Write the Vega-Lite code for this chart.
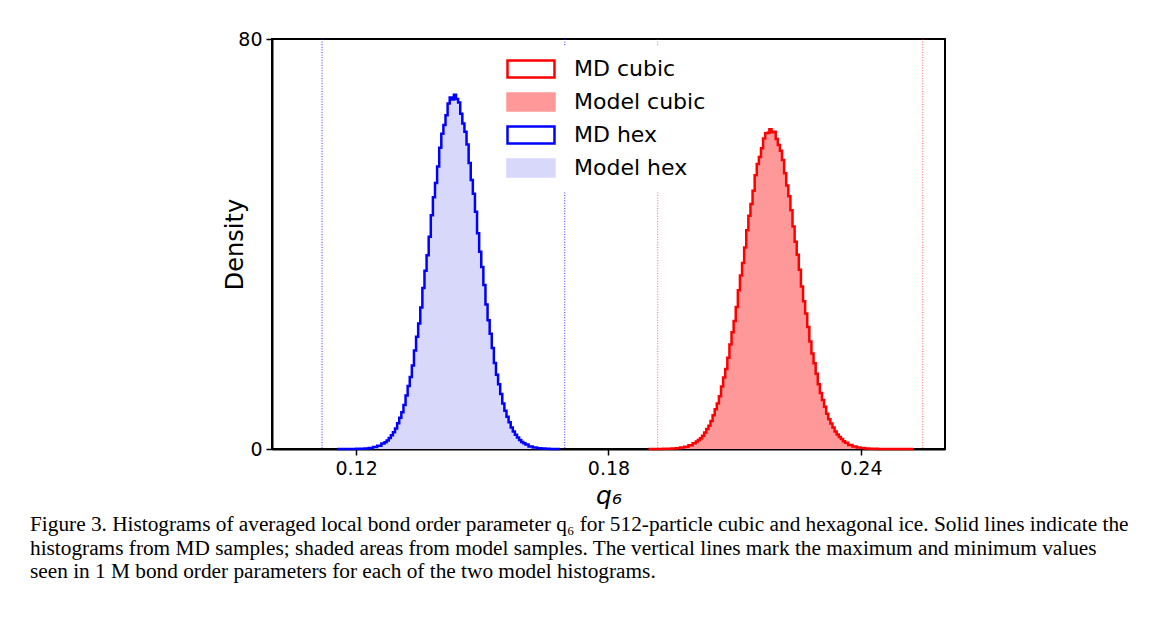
{
  "$schema": "https://vega.github.io/schema/vega-lite/v6.json",
  "width": 673,
  "height": 410,
  "autosize": {"type": "none"},
  "padding": {"left": 272, "top": 39, "right": 222, "bottom": 172},
  "background": "white",
  "config": {
    "view": {"stroke": "black", "strokeWidth": 2},
    "axis": {"grid": false, "domainColor": "black", "domainWidth": 2, "tickColor": "black", "tickWidth": 1.5, "tickSize": 6, "labelColor": "black", "labelFont": "DejaVu Sans", "labelFontSize": 19, "titleColor": "black", "titleFont": "DejaVu Sans", "titleFontWeight": "normal"}
  },
  "title": {
    "text": [
      "Figure 3. Histograms of averaged local bond order parameter q₆ for 512-particle cubic and hexagonal ice. Solid lines indicate the",
      "histograms from MD samples; shaded areas from model samples. The vertical lines mark the maximum and minimum values",
      "seen in 1 M bond order parameters for each of the two model histograms."
    ],
    "orient": "bottom",
    "anchor": "start",
    "frame": "group",
    "dx": -242,
    "offset": 6,
    "align": "left",
    "baseline": "top",
    "font": "Liberation Serif",
    "fontSize": 21.3,
    "fontWeight": "normal",
    "lineHeight": 23.5,
    "color": "black"
  },
  "datasets": {
    "bounds": [
      {"phase": "hex", "q": 0.1119},
      {"phase": "hex", "q": 0.1696},
      {"phase": "cubic", "q": 0.1917},
      {"phase": "cubic", "q": 0.2547}
    ],
    "hist": [
      {"q": 0.1155, "Model hex": 0.001, "MD hex": 0.001}, {"q": 0.1165, "Model hex": 0.002, "MD hex": 0.002}, {"q": 0.1175, "Model hex": 0.004, "MD hex": 0.004}, {"q": 0.1185, "Model hex": 0.007, "MD hex": 0.008}, {"q": 0.1195, "Model hex": 0.015, "MD hex": 0.016}, {"q": 0.1205, "Model hex": 0.03, "MD hex": 0.03}, {"q": 0.1215, "Model hex": 0.06, "MD hex": 0.06}, {"q": 0.1225, "Model hex": 0.11, "MD hex": 0.11}, {"q": 0.1235, "Model hex": 0.2, "MD hex": 0.21}, {"q": 0.1245, "Model hex": 0.36, "MD hex": 0.37}, {"q": 0.1255, "Model hex": 0.62, "MD hex": 0.63}, {"q": 0.1265, "Model hex": 1.04, "MD hex": 1.06},
      {"q": 0.127, "Model hex": 1.32, "MD hex": 1.33}, {"q": 0.1275, "Model hex": 1.68, "MD hex": 1.66}, {"q": 0.128, "Model hex": 2.12, "MD hex": 2.15}, {"q": 0.1285, "Model hex": 2.65, "MD hex": 2.7}, {"q": 0.129, "Model hex": 3.29, "MD hex": 3.25}, {"q": 0.1295, "Model hex": 4.05, "MD hex": 4.0}, {"q": 0.13, "Model hex": 4.96, "MD hex": 5.02}, {"q": 0.1305, "Model hex": 6.02, "MD hex": 6.1}, {"q": 0.131, "Model hex": 7.25, "MD hex": 7.18}, {"q": 0.1315, "Model hex": 8.68, "MD hex": 8.6},
      {"q": 0.132, "Model hex": 10.3, "MD hex": 10.42}, {"q": 0.1325, "Model hex": 12.14, "MD hex": 12.3}, {"q": 0.133, "Model hex": 14.19, "MD hex": 14.05}, {"q": 0.1335, "Model hex": 16.48, "MD hex": 16.3}, {"q": 0.134, "Model hex": 19.0, "MD hex": 19.2}, {"q": 0.1345, "Model hex": 21.73, "MD hex": 21.9}, {"q": 0.135, "Model hex": 24.68, "MD hex": 24.5}, {"q": 0.1355, "Model hex": 27.81, "MD hex": 27.6}, {"q": 0.136, "Model hex": 31.11, "MD hex": 31.4}, {"q": 0.1365, "Model hex": 34.55, "MD hex": 34.8},
      {"q": 0.137, "Model hex": 38.09, "MD hex": 37.8}, {"q": 0.1375, "Model hex": 41.67, "MD hex": 41.4}, {"q": 0.138, "Model hex": 45.25, "MD hex": 45.6}, {"q": 0.1385, "Model hex": 48.78, "MD hex": 49.1}, {"q": 0.139, "Model hex": 52.19, "MD hex": 51.9}, {"q": 0.1395, "Model hex": 55.43, "MD hex": 55.1}, {"q": 0.14, "Model hex": 58.43, "MD hex": 58.8}, {"q": 0.1405, "Model hex": 61.14, "MD hex": 61.5}, {"q": 0.141, "Model hex": 63.5, "MD hex": 63.2}, {"q": 0.1415, "Model hex": 65.47, "MD hex": 65.1},
      {"q": 0.142, "Model hex": 67.0, "MD hex": 67.4}, {"q": 0.1425, "Model hex": 68.05, "MD hex": 68.6}, {"q": 0.143, "Model hex": 68.61, "MD hex": 68.2}, {"q": 0.1435, "Model hex": 68.66, "MD hex": 69.1}, {"q": 0.144, "Model hex": 68.2, "MD hex": 68.3}, {"q": 0.1445, "Model hex": 67.24, "MD hex": 67.6}, {"q": 0.145, "Model hex": 65.81, "MD hex": 65.4}, {"q": 0.1455, "Model hex": 63.93, "MD hex": 63.5}, {"q": 0.146, "Model hex": 61.64, "MD hex": 61.9}, {"q": 0.1465, "Model hex": 59.0, "MD hex": 59.4},
      {"q": 0.147, "Model hex": 56.05, "MD hex": 55.8}, {"q": 0.1475, "Model hex": 52.86, "MD hex": 52.5}, {"q": 0.148, "Model hex": 49.47, "MD hex": 49.8}, {"q": 0.1485, "Model hex": 45.97, "MD hex": 46.3}, {"q": 0.149, "Model hex": 42.39, "MD hex": 42.1}, {"q": 0.1495, "Model hex": 38.8, "MD hex": 38.5}, {"q": 0.15, "Model hex": 35.25, "MD hex": 35.5}, {"q": 0.1505, "Model hex": 31.79, "MD hex": 32.0}, {"q": 0.151, "Model hex": 28.46, "MD hex": 28.2}, {"q": 0.1515, "Model hex": 25.29, "MD hex": 25.1},
      {"q": 0.152, "Model hex": 22.31, "MD hex": 22.5}, {"q": 0.1525, "Model hex": 19.52, "MD hex": 19.7}, {"q": 0.153, "Model hex": 16.97, "MD hex": 16.8}, {"q": 0.1535, "Model hex": 14.63, "MD hex": 14.5}, {"q": 0.154, "Model hex": 12.53, "MD hex": 12.65}, {"q": 0.1545, "Model hex": 10.64, "MD hex": 10.75}, {"q": 0.155, "Model hex": 8.98, "MD hex": 8.9}, {"q": 0.1555, "Model hex": 7.51, "MD hex": 7.45}, {"q": 0.156, "Model hex": 6.25, "MD hex": 6.3}, {"q": 0.1565, "Model hex": 5.15, "MD hex": 5.2},
      {"q": 0.157, "Model hex": 4.22, "MD hex": 4.18}, {"q": 0.1575, "Model hex": 3.43, "MD hex": 3.4}, {"q": 0.158, "Model hex": 2.77, "MD hex": 2.8}, {"q": 0.1585, "Model hex": 2.22, "MD hex": 2.25}, {"q": 0.159, "Model hex": 1.76, "MD hex": 1.74}, {"q": 0.1595, "Model hex": 1.39, "MD hex": 1.37}, {"q": 0.16, "Model hex": 1.09, "MD hex": 1.1}, {"q": 0.1605, "Model hex": 0.85, "MD hex": 0.86}, {"q": 0.1615, "Model hex": 0.5, "MD hex": 0.49}, {"q": 0.1625, "Model hex": 0.29, "MD hex": 0.3},
      {"q": 0.1635, "Model hex": 0.16, "MD hex": 0.16}, {"q": 0.1645, "Model hex": 0.09, "MD hex": 0.08}, {"q": 0.1655, "Model hex": 0.045, "MD hex": 0.046}, {"q": 0.1665, "Model hex": 0.023, "MD hex": 0.022}, {"q": 0.1675, "Model hex": 0.011, "MD hex": 0.012}, {"q": 0.1685, "Model hex": 0.005, "MD hex": 0.005},
      {"q": 0.1895, "Model cubic": 0.002, "MD cubic": 0.002}, {"q": 0.1905, "Model cubic": 0.004, "MD cubic": 0.004}, {"q": 0.1915, "Model cubic": 0.008, "MD cubic": 0.008}, {"q": 0.1925, "Model cubic": 0.015, "MD cubic": 0.016}, {"q": 0.1935, "Model cubic": 0.028, "MD cubic": 0.027}, {"q": 0.1945, "Model cubic": 0.052, "MD cubic": 0.053}, {"q": 0.1955, "Model cubic": 0.09, "MD cubic": 0.09}, {"q": 0.1965, "Model cubic": 0.16, "MD cubic": 0.16}, {"q": 0.1975, "Model cubic": 0.27, "MD cubic": 0.28}, {"q": 0.1985, "Model cubic": 0.45, "MD cubic": 0.44}, {"q": 0.1995, "Model cubic": 0.72, "MD cubic": 0.73}, {"q": 0.2005, "Model cubic": 1.14, "MD cubic": 1.13},
      {"q": 0.201, "Model cubic": 1.42, "MD cubic": 1.44}, {"q": 0.2015, "Model cubic": 1.75, "MD cubic": 1.77}, {"q": 0.202, "Model cubic": 2.15, "MD cubic": 2.12}, {"q": 0.2025, "Model cubic": 2.63, "MD cubic": 2.6}, {"q": 0.203, "Model cubic": 3.19, "MD cubic": 3.22}, {"q": 0.2035, "Model cubic": 3.85, "MD cubic": 3.9}, {"q": 0.204, "Model cubic": 4.61, "MD cubic": 4.56}, {"q": 0.2045, "Model cubic": 5.49, "MD cubic": 5.45}, {"q": 0.205, "Model cubic": 6.51, "MD cubic": 6.58}, {"q": 0.2055, "Model cubic": 7.66, "MD cubic": 7.75},
      {"q": 0.206, "Model cubic": 8.96, "MD cubic": 8.88}, {"q": 0.2065, "Model cubic": 10.41, "MD cubic": 10.3}, {"q": 0.207, "Model cubic": 12.04, "MD cubic": 12.18}, {"q": 0.2075, "Model cubic": 13.82, "MD cubic": 13.95}, {"q": 0.208, "Model cubic": 15.78, "MD cubic": 15.6}, {"q": 0.2085, "Model cubic": 17.91, "MD cubic": 17.8}, {"q": 0.209, "Model cubic": 20.2, "MD cubic": 20.4}, {"q": 0.2095, "Model cubic": 22.64, "MD cubic": 22.8}, {"q": 0.21, "Model cubic": 25.22, "MD cubic": 25.0}, {"q": 0.2105, "Model cubic": 27.92, "MD cubic": 27.7},
      {"q": 0.211, "Model cubic": 30.73, "MD cubic": 31.0}, {"q": 0.2115, "Model cubic": 33.61, "MD cubic": 33.85}, {"q": 0.212, "Model cubic": 36.55, "MD cubic": 36.3}, {"q": 0.2125, "Model cubic": 39.5, "MD cubic": 39.3}, {"q": 0.213, "Model cubic": 42.41, "MD cubic": 42.7}, {"q": 0.2135, "Model cubic": 45.28, "MD cubic": 45.5}, {"q": 0.214, "Model cubic": 48.04, "MD cubic": 47.8}, {"q": 0.2145, "Model cubic": 50.66, "MD cubic": 50.4}, {"q": 0.215, "Model cubic": 53.1, "MD cubic": 53.4}, {"q": 0.2155, "Model cubic": 55.31, "MD cubic": 55.6},
      {"q": 0.216, "Model cubic": 57.27, "MD cubic": 57.0}, {"q": 0.2165, "Model cubic": 58.94, "MD cubic": 58.7}, {"q": 0.217, "Model cubic": 60.28, "MD cubic": 60.6}, {"q": 0.2175, "Model cubic": 61.29, "MD cubic": 61.6}, {"q": 0.218, "Model cubic": 61.93, "MD cubic": 61.7}, {"q": 0.2185, "Model cubic": 62.19, "MD cubic": 62.4}, {"q": 0.219, "Model cubic": 62.08, "MD cubic": 61.8}, {"q": 0.2195, "Model cubic": 61.59, "MD cubic": 61.9}, {"q": 0.22, "Model cubic": 60.73, "MD cubic": 60.5}, {"q": 0.2205, "Model cubic": 59.52, "MD cubic": 59.3},
      {"q": 0.221, "Model cubic": 57.98, "MD cubic": 58.2}, {"q": 0.2215, "Model cubic": 56.13, "MD cubic": 56.4}, {"q": 0.222, "Model cubic": 54.01, "MD cubic": 53.8}, {"q": 0.2225, "Model cubic": 51.66, "MD cubic": 51.4}, {"q": 0.223, "Model cubic": 49.11, "MD cubic": 49.3}, {"q": 0.2235, "Model cubic": 46.39, "MD cubic": 46.6}, {"q": 0.224, "Model cubic": 43.57, "MD cubic": 43.4}, {"q": 0.2245, "Model cubic": 40.67, "MD cubic": 40.45}, {"q": 0.225, "Model cubic": 37.73, "MD cubic": 37.9}, {"q": 0.2255, "Model cubic": 34.79, "MD cubic": 35.0},
      {"q": 0.226, "Model cubic": 31.88, "MD cubic": 31.7}, {"q": 0.2265, "Model cubic": 29.04, "MD cubic": 28.85}, {"q": 0.227, "Model cubic": 26.29, "MD cubic": 26.45}, {"q": 0.2275, "Model cubic": 23.65, "MD cubic": 23.8}, {"q": 0.228, "Model cubic": 21.15, "MD cubic": 21.0}, {"q": 0.2285, "Model cubic": 18.8, "MD cubic": 18.65}, {"q": 0.229, "Model cubic": 16.61, "MD cubic": 16.75}, {"q": 0.2295, "Model cubic": 14.59, "MD cubic": 14.7}, {"q": 0.23, "Model cubic": 12.73, "MD cubic": 12.62}, {"q": 0.2305, "Model cubic": 11.04, "MD cubic": 10.95},
      {"q": 0.231, "Model cubic": 9.52, "MD cubic": 9.58}, {"q": 0.2315, "Model cubic": 8.16, "MD cubic": 8.22}, {"q": 0.232, "Model cubic": 6.95, "MD cubic": 6.9}, {"q": 0.2325, "Model cubic": 5.88, "MD cubic": 5.82}, {"q": 0.233, "Model cubic": 4.95, "MD cubic": 4.98}, {"q": 0.2335, "Model cubic": 4.14, "MD cubic": 4.18}, {"q": 0.234, "Model cubic": 3.44, "MD cubic": 3.41}, {"q": 0.2345, "Model cubic": 2.84, "MD cubic": 2.81}, {"q": 0.235, "Model cubic": 2.33, "MD cubic": 2.35}, {"q": 0.2355, "Model cubic": 1.91, "MD cubic": 1.93},
      {"q": 0.236, "Model cubic": 1.54, "MD cubic": 1.52}, {"q": 0.2365, "Model cubic": 1.25, "MD cubic": 1.23}, {"q": 0.2375, "Model cubic": 0.79, "MD cubic": 0.8}, {"q": 0.2385, "Model cubic": 0.49, "MD cubic": 0.48}, {"q": 0.2395, "Model cubic": 0.3, "MD cubic": 0.3}, {"q": 0.2405, "Model cubic": 0.18, "MD cubic": 0.18}, {"q": 0.2415, "Model cubic": 0.1, "MD cubic": 0.1}, {"q": 0.2425, "Model cubic": 0.058, "MD cubic": 0.06}, {"q": 0.2435, "Model cubic": 0.032, "MD cubic": 0.032}, {"q": 0.2445, "Model cubic": 0.017, "MD cubic": 0.017},
      {"q": 0.2455, "Model cubic": 0.009, "MD cubic": 0.009}, {"q": 0.2465, "Model cubic": 0.005, "MD cubic": 0.005}, {"q": 0.2475, "Model cubic": 0.002, "MD cubic": 0.002}, {"q": 0.2485, "Model cubic": 0.001, "MD cubic": 0.001}, {"q": 0.2495, "Model cubic": 0.001, "MD cubic": 0.001}, {"q": 0.2505, "Model cubic": 0.0005, "MD cubic": 0.0005}, {"q": 0.2515, "Model cubic": 0.0003, "MD cubic": 0.0003}, {"q": 0.2525, "Model cubic": 0.0002, "MD cubic": 0.0002}
    ]
  },
  "encoding": {
    "x": {"field": "q", "type": "quantitative", "scale": {"domain": [0.10, 0.26], "nice": false, "zero": false},
      "axis": {"values": [0.12, 0.18, 0.24], "format": ".2f", "labelPadding": 4, "title": "q₆", "titleFontSize": 25, "titleFontStyle": "italic", "titlePadding": 5}}
  },
  "layer": [
    {
      "data": {"name": "hist"},
      "transform": [{"fold": ["Model cubic", "Model hex"], "as": ["s", "d"]}, {"filter": "isValid(datum.d)"}],
      "mark": {"type": "area", "interpolate": "step", "opacity": 1},
      "encoding": {
        "y": {"field": "d", "type": "quantitative", "stack": null, "scale": {"domain": [0, 80], "nice": false},
          "axis": {"values": [0, 80], "title": "Density", "titleFontSize": 24, "titlePadding": -10, "labelPadding": 4}},
        "fill": {"field": "s", "type": "nominal",
          "scale": {"domain": ["MD cubic", "Model cubic", "MD hex", "Model hex"], "range": ["#ffffff", "#ff9999", "#ffffff", "#d8d8fb"]},
          "legend": {
            "title": null,
            "orient": "none",
            "legendX": 236,
            "legendY": 7,
            "padding": 10,
            "fillColor": "white",
            "strokeColor": null,
            "symbolType": "M-2,-0.72H2V0.72H-2Z",
            "symbolSize": 552,
            "symbolStrokeWidth": 2.5,
            "symbolOpacity": 1,
            "labelFont": "DejaVu Sans",
            "labelFontSize": 22,
            "labelColor": "black",
            "labelOffset": 30,
            "rowPadding": 5,
            "encode": {"symbols": {"update": {"fill": {"scale": "fill", "field": "value"}, "stroke": {"scale": "stroke", "field": "value"}, "opacity": {"value": 1}}}}
          }
        }
      }
    },
    {
      "data": {"name": "hist"},
      "transform": [{"fold": ["MD cubic", "MD hex"], "as": ["s", "d"]}, {"filter": "isValid(datum.d)"}],
      "mark": {"type": "line", "interpolate": "step", "strokeWidth": 2.5},
      "encoding": {
        "y": {"field": "d", "type": "quantitative"},
        "stroke": {"field": "s", "type": "nominal",
          "scale": {"domain": ["MD cubic", "Model cubic", "MD hex", "Model hex"], "range": ["#ff0000", "#ff9999", "#0000ff", "#d8d8fb"]},
          "legend": null}
      }
    },
    {
      "data": {"name": "bounds"},
      "transform": [{"filter": "datum.phase === 'hex'"}],
      "mark": {"type": "rule", "color": "#0000ff", "strokeWidth": 1, "strokeDash": [1, 1.6], "opacity": 0.8},
      "encoding": {}
    },
    {
      "data": {"name": "bounds"},
      "transform": [{"filter": "datum.phase === 'cubic'"}],
      "mark": {"type": "rule", "color": "#ff0000", "strokeWidth": 1, "strokeDash": [1, 1.6], "opacity": 0.6},
      "encoding": {}
    }
  ]
}
